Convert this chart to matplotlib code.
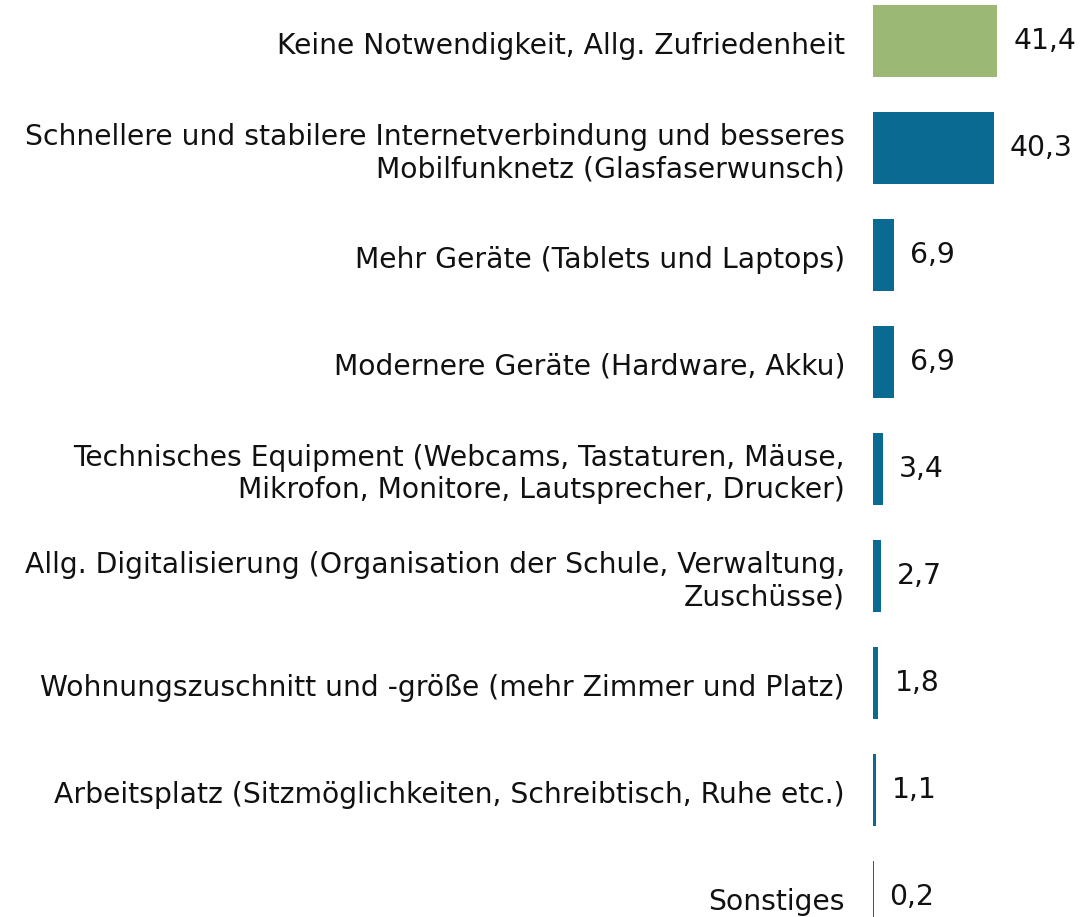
import matplotlib
matplotlib.use("Agg")
import matplotlib.pyplot as plt

categories = [
    "Keine Notwendigkeit, Allg. Zufriedenheit",
    "Schnellere und stabilere Internetverbindung und besseres\nMobilfunknetz (Glasfaserwunsch)",
    "Mehr Geräte (Tablets und Laptops)",
    "Modernere Geräte (Hardware, Akku)",
    "Technisches Equipment (Webcams, Tastaturen, Mäuse,\nMikrofon, Monitore, Lautsprecher, Drucker)",
    "Allg. Digitalisierung (Organisation der Schule, Verwaltung,\nZuschüsse)",
    "Wohnungszuschnitt und -größe (mehr Zimmer und Platz)",
    "Arbeitsplatz (Sitzmöglichkeiten, Schreibtisch, Ruhe etc.)",
    "Sonstiges",
]
values = [41.4, 40.3, 6.9, 6.9, 3.4, 2.7, 1.8, 1.1, 0.2]
value_labels = ["41,4", "40,3", "6,9", "6,9", "3,4", "2,7", "1,8", "1,1", "0,2"]
colors = ["#9bb874"] + ["#0a6a92"] * 8

W, H = 1081, 917
fig = plt.figure(figsize=(W / 100, H / 100), dpi=100)
ax = fig.add_axes([873 / W, 0, (W - 873) / W, 1])
ax.set_xlim(0, (W - 873) / 3.0)
ax.set_ylim((917 - 41) / 107, -41 / 107)

ypos = list(range(len(categories)))
ax.barh(ypos, values, height=0.673, color=colors, linewidth=0)

fs = 20.3
for y, v, lab, cat in zip(ypos, values, value_labels, categories):
    ax.annotate(lab, xy=(v, y), xytext=(16, 0), textcoords="offset pixels",
                ha="left", va="center", fontsize=fs, color="#111111",
                annotation_clip=False)
    ax.annotate(cat, xy=(0, y), xytext=(-28, -5), textcoords="offset pixels",
                ha="right", va="center", multialignment="right", fontsize=fs,
                color="#111111", annotation_clip=False, linespacing=1.2)

for s in ax.spines.values():
    s.set_visible(False)
ax.set_xticks([])
ax.set_yticks([])

fig.savefig("out.png", dpi=100)
